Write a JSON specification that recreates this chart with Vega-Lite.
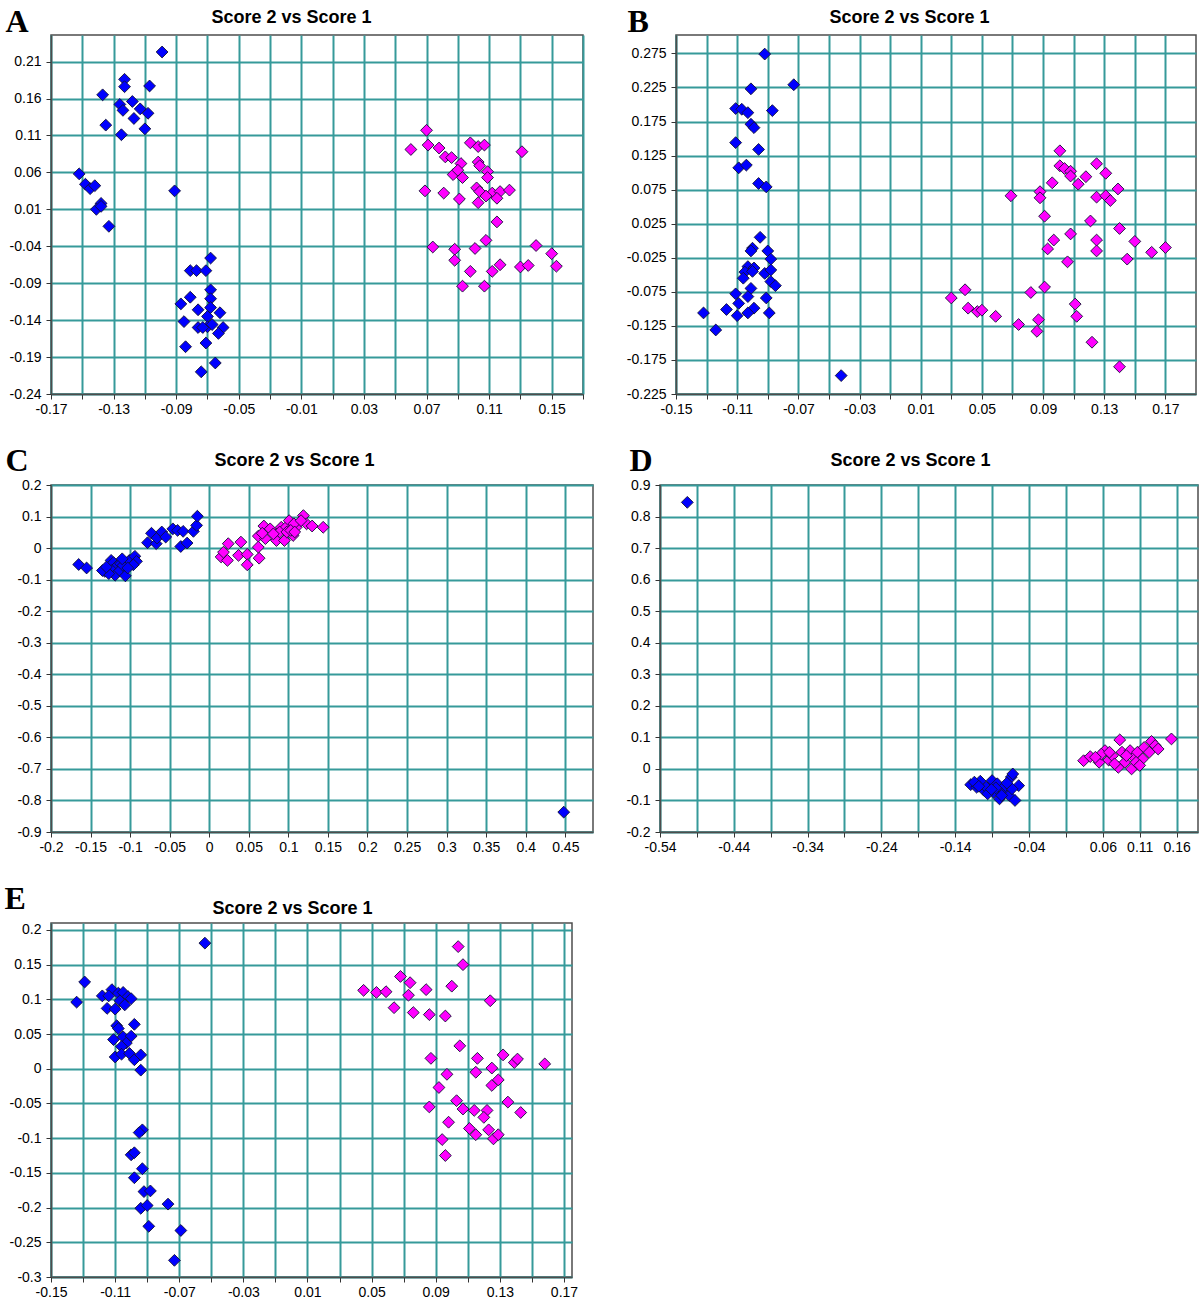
{
  "$schema": "https://vega.github.io/schema/vega-lite/v6.json",
  "padding": {"left": 3, "top": 4, "right": 0, "bottom": 0},
  "columns": 2,
  "spacing": {"row": 26, "column": 31},
  "align": "none",
  "bounds": "full",
  "config": {
    "view": {"stroke": "#4d4d4d", "strokeWidth": 1.5},
    "font": "Liberation Sans",
    "axis": {"labelFont": "Liberation Sans", "labelFontSize": 14, "labelColor": "#000000", "tickColor": "#333333", "tickSize": 5, "tickWidth": 1, "domainColor": "#4d4d4d", "domainWidth": 1.5, "gridColor": "#369a9a", "gridWidth": 2, "gridOpacity": 1, "labelOverlap": false, "labelFlush": false, "labelBound": false, "titleColor": "#000000", "titleAngle": 0},
    "axisX": {"labelPadding": 3, "labelAngle": 0, "titleFont": "Liberation Serif", "titleFontSize": 32, "titleFontWeight": "bold", "titleAlign": "left", "titleBaseline": "alphabetic"},
    "axisY": {"labelPadding": 5, "titleFont": "Liberation Sans", "titleFontSize": 18, "titleFontWeight": "bold", "titleAlign": "center", "titleBaseline": "alphabetic", "titleAngle": 0}
  },
  "datasets": {
    "A": [
      {"g":"b","x":-0.099,"y":0.223},{"g":"b","x":-0.123,"y":0.186},{"g":"b","x":-0.123,"y":0.176},{"g":"b","x":-0.107,"y":0.177},{"g":"b","x":-0.137,"y":0.165},{"g":"b","x":-0.126,"y":0.152},{"g":"b","x":-0.118,"y":0.156},{"g":"b","x":-0.124,"y":0.144},{"g":"b","x":-0.113,"y":0.146},{"g":"b","x":-0.108,"y":0.140},{"g":"b","x":-0.117,"y":0.133},{"g":"b","x":-0.135,"y":0.124},{"g":"b","x":-0.110,"y":0.119},{"g":"b","x":-0.125,"y":0.111},{"g":"b","x":-0.152,"y":0.058},{"g":"b","x":-0.148,"y":0.044},{"g":"b","x":-0.145,"y":0.038},{"g":"b","x":-0.142,"y":0.042},{"g":"b","x":-0.091,"y":0.035},{"g":"b","x":-0.138,"y":0.018},{"g":"b","x":-0.141,"y":0.010},{"g":"b","x":-0.138,"y":0.014},{"g":"b","x":-0.133,"y":-0.013},{"g":"b","x":-0.068,"y":-0.056},{"g":"b","x":-0.081,"y":-0.073},{"g":"b","x":-0.077,"y":-0.073},{"g":"b","x":-0.071,"y":-0.073},{"g":"b","x":-0.068,"y":-0.099},{"g":"b","x":-0.068,"y":-0.111},{"g":"b","x":-0.081,"y":-0.109},{"g":"b","x":-0.087,"y":-0.118},{"g":"b","x":-0.068,"y":-0.123},{"g":"b","x":-0.076,"y":-0.126},{"g":"b","x":-0.062,"y":-0.130},{"g":"b","x":-0.070,"y":-0.135},{"g":"b","x":-0.085,"y":-0.142},{"g":"b","x":-0.076,"y":-0.150},{"g":"b","x":-0.070,"y":-0.149},{"g":"b","x":-0.067,"y":-0.146},{"g":"b","x":-0.060,"y":-0.150},{"g":"b","x":-0.063,"y":-0.158},{"g":"b","x":-0.071,"y":-0.171},{"g":"b","x":-0.084,"y":-0.176},{"g":"b","x":-0.065,"y":-0.198},{"g":"b","x":-0.074,"y":-0.210},{"g":"b","x":-0.073,"y":-0.150},
      {"g":"m","x":0.070,"y":0.117},{"g":"m","x":0.060,"y":0.091},{"g":"m","x":0.071,"y":0.097},{"g":"m","x":0.078,"y":0.093},{"g":"m","x":0.098,"y":0.100},{"g":"m","x":0.103,"y":0.095},{"g":"m","x":0.107,"y":0.097},{"g":"m","x":0.131,"y":0.088},{"g":"m","x":0.082,"y":0.081},{"g":"m","x":0.086,"y":0.080},{"g":"m","x":0.092,"y":0.072},{"g":"m","x":0.103,"y":0.074},{"g":"m","x":0.104,"y":0.069},{"g":"m","x":0.087,"y":0.057},{"g":"m","x":0.090,"y":0.063},{"g":"m","x":0.093,"y":0.053},{"g":"m","x":0.109,"y":0.061},{"g":"m","x":0.109,"y":0.053},{"g":"m","x":0.069,"y":0.035},{"g":"m","x":0.081,"y":0.032},{"g":"m","x":0.102,"y":0.039},{"g":"m","x":0.104,"y":0.034},{"g":"m","x":0.112,"y":0.032},{"g":"m","x":0.117,"y":0.034},{"g":"m","x":0.123,"y":0.036},{"g":"m","x":0.108,"y":0.028},{"g":"m","x":0.115,"y":0.025},{"g":"m","x":0.091,"y":0.024},{"g":"m","x":0.103,"y":0.019},{"g":"m","x":0.115,"y":-0.007},{"g":"m","x":0.074,"y":-0.041},{"g":"m","x":0.088,"y":-0.044},{"g":"m","x":0.101,"y":-0.043},{"g":"m","x":0.108,"y":-0.032},{"g":"m","x":0.140,"y":-0.039},{"g":"m","x":0.150,"y":-0.050},{"g":"m","x":0.088,"y":-0.059},{"g":"m","x":0.098,"y":-0.074},{"g":"m","x":0.112,"y":-0.074},{"g":"m","x":0.117,"y":-0.065},{"g":"m","x":0.130,"y":-0.068},{"g":"m","x":0.135,"y":-0.066},{"g":"m","x":0.153,"y":-0.067},{"g":"m","x":0.093,"y":-0.094},{"g":"m","x":0.107,"y":-0.094}
    ],
    "B": [
      {"g":"b","x":-0.092,"y":0.274},{"g":"b","x":-0.073,"y":0.229},{"g":"b","x":-0.101,"y":0.223},{"g":"b","x":-0.111,"y":0.194},{"g":"b","x":-0.107,"y":0.193},{"g":"b","x":-0.103,"y":0.188},{"g":"b","x":-0.087,"y":0.191},{"g":"b","x":-0.101,"y":0.171},{"g":"b","x":-0.099,"y":0.166},{"g":"b","x":-0.111,"y":0.144},{"g":"b","x":-0.096,"y":0.134},{"g":"b","x":-0.109,"y":0.107},{"g":"b","x":-0.104,"y":0.111},{"g":"b","x":-0.096,"y":0.084},{"g":"b","x":-0.091,"y":0.079},{"g":"b","x":-0.095,"y":0.005},{"g":"b","x":-0.100,"y":-0.011},{"g":"b","x":-0.101,"y":-0.015},{"g":"b","x":-0.090,"y":-0.015},{"g":"b","x":-0.088,"y":-0.027},{"g":"b","x":-0.103,"y":-0.038},{"g":"b","x":-0.099,"y":-0.040},{"g":"b","x":-0.105,"y":-0.046},{"g":"b","x":-0.100,"y":-0.045},{"g":"b","x":-0.092,"y":-0.048},{"g":"b","x":-0.088,"y":-0.043},{"g":"b","x":-0.106,"y":-0.055},{"g":"b","x":-0.088,"y":-0.060},{"g":"b","x":-0.085,"y":-0.066},{"g":"b","x":-0.101,"y":-0.070},{"g":"b","x":-0.111,"y":-0.078},{"g":"b","x":-0.103,"y":-0.082},{"g":"b","x":-0.091,"y":-0.084},{"g":"b","x":-0.109,"y":-0.092},{"g":"b","x":-0.117,"y":-0.101},{"g":"b","x":-0.099,"y":-0.099},{"g":"b","x":-0.103,"y":-0.106},{"g":"b","x":-0.110,"y":-0.110},{"g":"b","x":-0.089,"y":-0.106},{"g":"b","x":-0.132,"y":-0.106},{"g":"b","x":-0.124,"y":-0.131},{"g":"b","x":-0.042,"y":-0.198},
      {"g":"m","x":0.101,"y":0.132},{"g":"m","x":0.101,"y":0.110},{"g":"m","x":0.104,"y":0.106},{"g":"m","x":0.108,"y":0.102},{"g":"m","x":0.108,"y":0.095},{"g":"m","x":0.113,"y":0.083},{"g":"m","x":0.118,"y":0.094},{"g":"m","x":0.125,"y":0.113},{"g":"m","x":0.131,"y":0.099},{"g":"m","x":0.096,"y":0.085},{"g":"m","x":0.139,"y":0.076},{"g":"m","x":0.069,"y":0.066},{"g":"m","x":0.088,"y":0.072},{"g":"m","x":0.088,"y":0.063},{"g":"m","x":0.125,"y":0.064},{"g":"m","x":0.131,"y":0.066},{"g":"m","x":0.134,"y":0.059},{"g":"m","x":0.091,"y":0.036},{"g":"m","x":0.121,"y":0.029},{"g":"m","x":0.140,"y":0.018},{"g":"m","x":0.108,"y":0.010},{"g":"m","x":0.097,"y":0.001},{"g":"m","x":0.125,"y":0.001},{"g":"m","x":0.150,"y":-0.001},{"g":"m","x":0.093,"y":-0.012},{"g":"m","x":0.125,"y":-0.015},{"g":"m","x":0.161,"y":-0.017},{"g":"m","x":0.170,"y":-0.010},{"g":"m","x":0.145,"y":-0.027},{"g":"m","x":0.106,"y":-0.031},{"g":"m","x":0.091,"y":-0.068},{"g":"m","x":0.082,"y":-0.076},{"g":"m","x":0.039,"y":-0.072},{"g":"m","x":0.030,"y":-0.084},{"g":"m","x":0.041,"y":-0.099},{"g":"m","x":0.047,"y":-0.104},{"g":"m","x":0.050,"y":-0.102},{"g":"m","x":0.059,"y":-0.111},{"g":"m","x":0.074,"y":-0.123},{"g":"m","x":0.111,"y":-0.093},{"g":"m","x":0.112,"y":-0.111},{"g":"m","x":0.087,"y":-0.116},{"g":"m","x":0.086,"y":-0.133},{"g":"m","x":0.122,"y":-0.149},{"g":"m","x":0.140,"y":-0.185}
    ],
    "C": [
      {"g":"b","x":-0.165,"y":-0.052},{"g":"b","x":-0.155,"y":-0.063},{"g":"b","x":-0.132,"y":-0.074},{"g":"b","x":-0.127,"y":-0.058},{"g":"b","x":-0.124,"y":-0.039},{"g":"b","x":-0.121,"y":-0.046},{"g":"b","x":-0.116,"y":-0.055},{"g":"b","x":-0.112,"y":-0.050},{"g":"b","x":-0.123,"y":-0.071},{"g":"b","x":-0.119,"y":-0.086},{"g":"b","x":-0.113,"y":-0.071},{"g":"b","x":-0.109,"y":-0.055},{"g":"b","x":-0.106,"y":-0.088},{"g":"b","x":-0.127,"y":-0.081},{"g":"b","x":-0.101,"y":-0.039},{"g":"b","x":-0.094,"y":-0.026},{"g":"b","x":-0.092,"y":-0.042},{"g":"b","x":-0.096,"y":-0.053},{"g":"b","x":-0.103,"y":-0.063},{"g":"b","x":-0.135,"y":-0.071},{"g":"b","x":-0.130,"y":-0.060},{"g":"b","x":-0.110,"y":-0.034},{"g":"b","x":-0.078,"y":0.017},{"g":"b","x":-0.073,"y":0.047},{"g":"b","x":-0.067,"y":0.014},{"g":"b","x":-0.066,"y":0.032},{"g":"b","x":-0.060,"y":0.051},{"g":"b","x":-0.055,"y":0.035},{"g":"b","x":-0.046,"y":0.061},{"g":"b","x":-0.040,"y":0.056},{"g":"b","x":-0.033,"y":0.053},{"g":"b","x":-0.036,"y":0.005},{"g":"b","x":-0.028,"y":0.016},{"g":"b","x":-0.020,"y":0.053},{"g":"b","x":-0.016,"y":0.072},{"g":"b","x":-0.015,"y":0.101},{"g":"b","x":0.448,"y":-0.837},
      {"g":"m","x":0.015,"y":-0.028},{"g":"m","x":0.023,"y":-0.039},{"g":"m","x":0.018,"y":-0.013},{"g":"m","x":0.024,"y":0.014},{"g":"m","x":0.040,"y":0.019},{"g":"m","x":0.037,"y":-0.023},{"g":"m","x":0.048,"y":-0.020},{"g":"m","x":0.048,"y":-0.053},{"g":"m","x":0.063,"y":-0.032},{"g":"m","x":0.062,"y":0.003},{"g":"m","x":0.062,"y":0.038},{"g":"m","x":0.069,"y":0.070},{"g":"m","x":0.071,"y":0.030},{"g":"m","x":0.077,"y":0.061},{"g":"m","x":0.085,"y":0.024},{"g":"m","x":0.091,"y":0.066},{"g":"m","x":0.095,"y":0.024},{"g":"m","x":0.097,"y":0.066},{"g":"m","x":0.101,"y":0.087},{"g":"m","x":0.106,"y":0.040},{"g":"m","x":0.110,"y":0.066},{"g":"m","x":0.107,"y":0.077},{"g":"m","x":0.119,"y":0.103},{"g":"m","x":0.123,"y":0.077},{"g":"m","x":0.130,"y":0.070},{"g":"m","x":0.144,"y":0.066},{"g":"m","x":0.089,"y":0.051},{"g":"m","x":0.116,"y":0.087},{"g":"m","x":0.098,"y":0.051},{"g":"m","x":0.067,"y":0.047},{"g":"m","x":0.081,"y":0.045},{"g":"m","x":0.103,"y":0.056},{"g":"m","x":0.108,"y":0.051}
    ],
    "D": [
      {"g":"b","x":-0.503,"y":0.845},{"g":"b","x":-0.119,"y":-0.050},{"g":"b","x":-0.111,"y":-0.058},{"g":"b","x":-0.106,"y":-0.039},{"g":"b","x":-0.101,"y":-0.068},{"g":"b","x":-0.093,"y":-0.053},{"g":"b","x":-0.090,"y":-0.037},{"g":"b","x":-0.088,"y":-0.074},{"g":"b","x":-0.083,"y":-0.047},{"g":"b","x":-0.080,"y":-0.095},{"g":"b","x":-0.075,"y":-0.068},{"g":"b","x":-0.072,"y":-0.053},{"g":"b","x":-0.067,"y":-0.084},{"g":"b","x":-0.064,"y":-0.026},{"g":"b","x":-0.062,"y":-0.016},{"g":"b","x":-0.059,"y":-0.100},{"g":"b","x":-0.054,"y":-0.053},{"g":"b","x":-0.063,"y":-0.063},{"g":"b","x":-0.098,"y":-0.058},{"g":"b","x":-0.077,"y":-0.084},{"g":"b","x":-0.114,"y":-0.042},{"g":"b","x":-0.096,"y":-0.079},{"g":"b","x":-0.085,"y":-0.060},{"g":"b","x":-0.070,"y":-0.045},{"g":"b","x":-0.108,"y":-0.055},{"g":"b","x":-0.091,"y":-0.065},
      {"g":"m","x":0.034,"y":0.026},{"g":"m","x":0.043,"y":0.039},{"g":"m","x":0.055,"y":0.021},{"g":"m","x":0.063,"y":0.058},{"g":"m","x":0.068,"y":0.028},{"g":"m","x":0.073,"y":0.042},{"g":"m","x":0.083,"y":0.092},{"g":"m","x":0.081,"y":0.005},{"g":"m","x":0.086,"y":0.053},{"g":"m","x":0.090,"y":0.021},{"g":"m","x":0.097,"y":0.058},{"g":"m","x":0.099,"y":0.000},{"g":"m","x":0.102,"y":0.037},{"g":"m","x":0.107,"y":0.053},{"g":"m","x":0.114,"y":0.032},{"g":"m","x":0.116,"y":0.068},{"g":"m","x":0.123,"y":0.053},{"g":"m","x":0.126,"y":0.087},{"g":"m","x":0.131,"y":0.074},{"g":"m","x":0.135,"y":0.063},{"g":"m","x":0.153,"y":0.095},{"g":"m","x":0.058,"y":0.047},{"g":"m","x":0.092,"y":0.042},{"g":"m","x":0.076,"y":0.016},{"g":"m","x":0.105,"y":0.021},{"g":"m","x":0.110,"y":0.011},{"g":"m","x":0.050,"y":0.037},{"g":"m","x":0.069,"y":0.053}
    ],
    "E": [
      {"g":"b","x":-0.054,"y":0.181},{"g":"b","x":-0.129,"y":0.125},{"g":"b","x":-0.134,"y":0.096},{"g":"b","x":-0.118,"y":0.105},{"g":"b","x":-0.112,"y":0.114},{"g":"b","x":-0.114,"y":0.105},{"g":"b","x":-0.108,"y":0.109},{"g":"b","x":-0.105,"y":0.110},{"g":"b","x":-0.102,"y":0.104},{"g":"b","x":-0.100,"y":0.101},{"g":"b","x":-0.107,"y":0.098},{"g":"b","x":-0.104,"y":0.092},{"g":"b","x":-0.115,"y":0.087},{"g":"b","x":-0.110,"y":0.086},{"g":"b","x":-0.109,"y":0.062},{"g":"b","x":-0.108,"y":0.058},{"g":"b","x":-0.098,"y":0.064},{"g":"b","x":-0.111,"y":0.042},{"g":"b","x":-0.105,"y":0.046},{"g":"b","x":-0.100,"y":0.047},{"g":"b","x":-0.103,"y":0.037},{"g":"b","x":-0.106,"y":0.032},{"g":"b","x":-0.110,"y":0.017},{"g":"b","x":-0.106,"y":0.021},{"g":"b","x":-0.101,"y":0.022},{"g":"b","x":-0.098,"y":0.013},{"g":"b","x":-0.094,"y":0.020},{"g":"b","x":-0.094,"y":-0.002},{"g":"b","x":-0.093,"y":-0.088},{"g":"b","x":-0.095,"y":-0.092},{"g":"b","x":-0.100,"y":-0.124},{"g":"b","x":-0.098,"y":-0.121},{"g":"b","x":-0.093,"y":-0.144},{"g":"b","x":-0.098,"y":-0.157},{"g":"b","x":-0.092,"y":-0.177},{"g":"b","x":-0.088,"y":-0.176},{"g":"b","x":-0.094,"y":-0.201},{"g":"b","x":-0.090,"y":-0.197},{"g":"b","x":-0.077,"y":-0.195},{"g":"b","x":-0.089,"y":-0.227},{"g":"b","x":-0.069,"y":-0.233},{"g":"b","x":-0.073,"y":-0.276},
      {"g":"m","x":0.045,"y":0.113},{"g":"m","x":0.053,"y":0.110},{"g":"m","x":0.059,"y":0.111},{"g":"m","x":0.064,"y":0.088},{"g":"m","x":0.068,"y":0.133},{"g":"m","x":0.074,"y":0.124},{"g":"m","x":0.073,"y":0.106},{"g":"m","x":0.076,"y":0.081},{"g":"m","x":0.084,"y":0.114},{"g":"m","x":0.086,"y":0.078},{"g":"m","x":0.096,"y":0.076},{"g":"m","x":0.100,"y":0.119},{"g":"m","x":0.104,"y":0.176},{"g":"m","x":0.107,"y":0.150},{"g":"m","x":0.124,"y":0.098},{"g":"m","x":0.105,"y":0.033},{"g":"m","x":0.087,"y":0.015},{"g":"m","x":0.116,"y":0.015},{"g":"m","x":0.115,"y":-0.005},{"g":"m","x":0.125,"y":0.001},{"g":"m","x":0.097,"y":-0.008},{"g":"m","x":0.132,"y":0.020},{"g":"m","x":0.139,"y":0.009},{"g":"m","x":0.141,"y":0.014},{"g":"m","x":0.158,"y":0.007},{"g":"m","x":0.092,"y":-0.027},{"g":"m","x":0.125,"y":-0.024},{"g":"m","x":0.129,"y":-0.016},{"g":"m","x":0.086,"y":-0.055},{"g":"m","x":0.103,"y":-0.046},{"g":"m","x":0.107,"y":-0.058},{"g":"m","x":0.114,"y":-0.060},{"g":"m","x":0.122,"y":-0.060},{"g":"m","x":0.120,"y":-0.070},{"g":"m","x":0.135,"y":-0.048},{"g":"m","x":0.143,"y":-0.063},{"g":"m","x":0.098,"y":-0.077},{"g":"m","x":0.111,"y":-0.086},{"g":"m","x":0.115,"y":-0.095},{"g":"m","x":0.123,"y":-0.088},{"g":"m","x":0.126,"y":-0.101},{"g":"m","x":0.129,"y":-0.095},{"g":"m","x":0.094,"y":-0.102},{"g":"m","x":0.096,"y":-0.125}
    ]
  },
  "concat": [
    {
      "width": 532, "height": 359,
      "data": {"name": "A"},
      "mark": {"type": "point", "shape": "diamond", "filled": true, "size": 140, "stroke": "#111133", "strokeWidth": 0.9, "opacity": 1},
      "encoding": {
        "x": {"field": "x", "type": "quantitative", "scale": {"domain": [-0.17, 0.17], "nice": false, "zero": false},
          "axis": {"values": [-0.17,-0.15,-0.13,-0.11,-0.09,-0.07,-0.05,-0.03,-0.01,0.01,0.03,0.05,0.07,0.09,0.11,0.13,0.15,0.17],
            "labelExpr": "(round((datum.value+0.17)*50) % 2 == 0) ? ((datum.value < 0 ? '-' : '') + format(abs(datum.value), '.2f')) : ''",
            "title": "A", "titleX": -46, "titleY": -363}},
        "y": {"field": "y", "type": "quantitative", "scale": {"domain": [-0.24, 0.246], "nice": false, "zero": false},
          "axis": {"values": [-0.24,-0.19,-0.14,-0.09,-0.04,0.01,0.06,0.11,0.16,0.21],
            "labelExpr": "(datum.value < 0 ? '-' : '') + format(abs(datum.value), '.2f')",
            "title": "Score 2 vs Score 1", "titleX": 240, "titleY": -13}},
        "color": {"field": "g", "type": "nominal", "scale": {"domain": ["b", "m"], "range": ["#0000ff", "#ff00ff"]}, "legend": null}
      }
    },
    {
      "width": 520, "height": 359,
      "data": {"name": "B"},
      "mark": {"type": "point", "shape": "diamond", "filled": true, "size": 140, "stroke": "#111133", "strokeWidth": 0.9, "opacity": 1},
      "encoding": {
        "x": {"field": "x", "type": "quantitative", "scale": {"domain": [-0.15, 0.19], "nice": false, "zero": false},
          "axis": {"values": [-0.15,-0.13,-0.11,-0.09,-0.07,-0.05,-0.03,-0.01,0.01,0.03,0.05,0.07,0.09,0.11,0.13,0.15,0.17],
            "labelExpr": "(round((datum.value+0.15)*50) % 2 == 0) ? ((datum.value < 0 ? '-' : '') + format(abs(datum.value), '.2f')) : ''",
            "title": "B", "titleX": -49, "titleY": -363}},
        "y": {"field": "y", "type": "quantitative", "scale": {"domain": [-0.225, 0.302], "nice": false, "zero": false},
          "axis": {"values": [-0.225,-0.175,-0.125,-0.075,-0.025,0.025,0.075,0.125,0.175,0.225,0.275],
            "labelExpr": "(datum.value < 0 ? '-' : '') + format(abs(datum.value), '.3f')",
            "title": "Score 2 vs Score 1", "titleX": 233, "titleY": -13}},
        "color": {"field": "g", "type": "nominal", "scale": {"domain": ["b", "m"], "range": ["#0000ff", "#ff00ff"]}, "legend": null}
      }
    },
    {
      "width": 542, "height": 347,
      "data": {"name": "C"},
      "mark": {"type": "point", "shape": "diamond", "filled": true, "size": 140, "stroke": "#111133", "strokeWidth": 0.9, "opacity": 1},
      "encoding": {
        "x": {"field": "x", "type": "quantitative", "scale": {"domain": [-0.2, 0.485], "nice": false, "zero": false},
          "axis": {"values": [-0.2,-0.15,-0.1,-0.05,0,0.05,0.1,0.15,0.2,0.25,0.3,0.35,0.4,0.45],
            "labelExpr": "(datum.value < 0 ? '-' : '') + format(abs(datum.value), '.2~f')",
            "title": "C", "titleX": -46, "titleY": -362}},
        "y": {"field": "y", "type": "quantitative", "scale": {"domain": [-0.9, 0.2], "nice": false, "zero": false},
          "axis": {"values": [-0.9,-0.8,-0.7,-0.6,-0.5,-0.4,-0.3,-0.2,-0.1,0,0.1,0.2],
            "labelExpr": "(datum.value < 0 ? '-' : '') + format(abs(datum.value), '.1~f')",
            "title": "Score 2 vs Score 1", "titleX": 243, "titleY": -19.5}},
        "color": {"field": "g", "type": "nominal", "scale": {"domain": ["b", "m"], "range": ["#0000ff", "#ff00ff"]}, "legend": null}
      }
    },
    {
      "width": 538, "height": 347,
      "data": {"name": "D"},
      "mark": {"type": "point", "shape": "diamond", "filled": true, "size": 140, "stroke": "#111133", "strokeWidth": 0.9, "opacity": 1},
      "encoding": {
        "x": {"field": "x", "type": "quantitative", "scale": {"domain": [-0.54, 0.189], "nice": false, "zero": false},
          "axis": {"values": [-0.54,-0.49,-0.44,-0.39,-0.34,-0.29,-0.24,-0.19,-0.14,-0.09,-0.04,0.01,0.06,0.11,0.16],
            "labelExpr": "(round((datum.value+0.54)*20) % 2 == 0 || round((datum.value+0.54)*20) == 13) ? ((datum.value < 0 ? '-' : '') + format(abs(datum.value), '.2f')) : ''",
            "title": "D", "titleX": -31, "titleY": -362}},
        "y": {"field": "y", "type": "quantitative", "scale": {"domain": [-0.2, 0.9], "nice": false, "zero": false},
          "axis": {"values": [-0.2,-0.1,0,0.1,0.2,0.3,0.4,0.5,0.6,0.7,0.8,0.9],
            "labelExpr": "(datum.value < 0 ? '-' : '') + format(abs(datum.value), '.1~f')",
            "title": "Score 2 vs Score 1", "titleX": 250, "titleY": -19.5}},
        "color": {"field": "g", "type": "nominal", "scale": {"domain": ["b", "m"], "range": ["#0000ff", "#ff00ff"]}, "legend": null}
      }
    },
    {
      "width": 521, "height": 354,
      "data": {"name": "E"},
      "mark": {"type": "point", "shape": "diamond", "filled": true, "size": 140, "stroke": "#111133", "strokeWidth": 0.9, "opacity": 1},
      "encoding": {
        "x": {"field": "x", "type": "quantitative", "scale": {"domain": [-0.15, 0.175], "nice": false, "zero": false},
          "axis": {"values": [-0.15,-0.13,-0.11,-0.09,-0.07,-0.05,-0.03,-0.01,0.01,0.03,0.05,0.07,0.09,0.11,0.13,0.15,0.17],
            "labelExpr": "(round((datum.value+0.15)*50) % 2 == 0) ? ((datum.value < 0 ? '-' : '') + format(abs(datum.value), '.2f')) : ''",
            "title": "E", "titleX": -47, "titleY": -369}},
        "y": {"field": "y", "type": "quantitative", "scale": {"domain": [-0.3, 0.21], "nice": false, "zero": false},
          "axis": {"values": [-0.3,-0.25,-0.2,-0.15,-0.1,-0.05,0,0.05,0.1,0.15,0.2],
            "labelExpr": "(datum.value < 0 ? '-' : '') + format(abs(datum.value), '.2~f')",
            "title": "Score 2 vs Score 1", "titleX": 241, "titleY": -10}},
        "color": {"field": "g", "type": "nominal", "scale": {"domain": ["b", "m"], "range": ["#0000ff", "#ff00ff"]}, "legend": null}
      }
    }
  ]
}
